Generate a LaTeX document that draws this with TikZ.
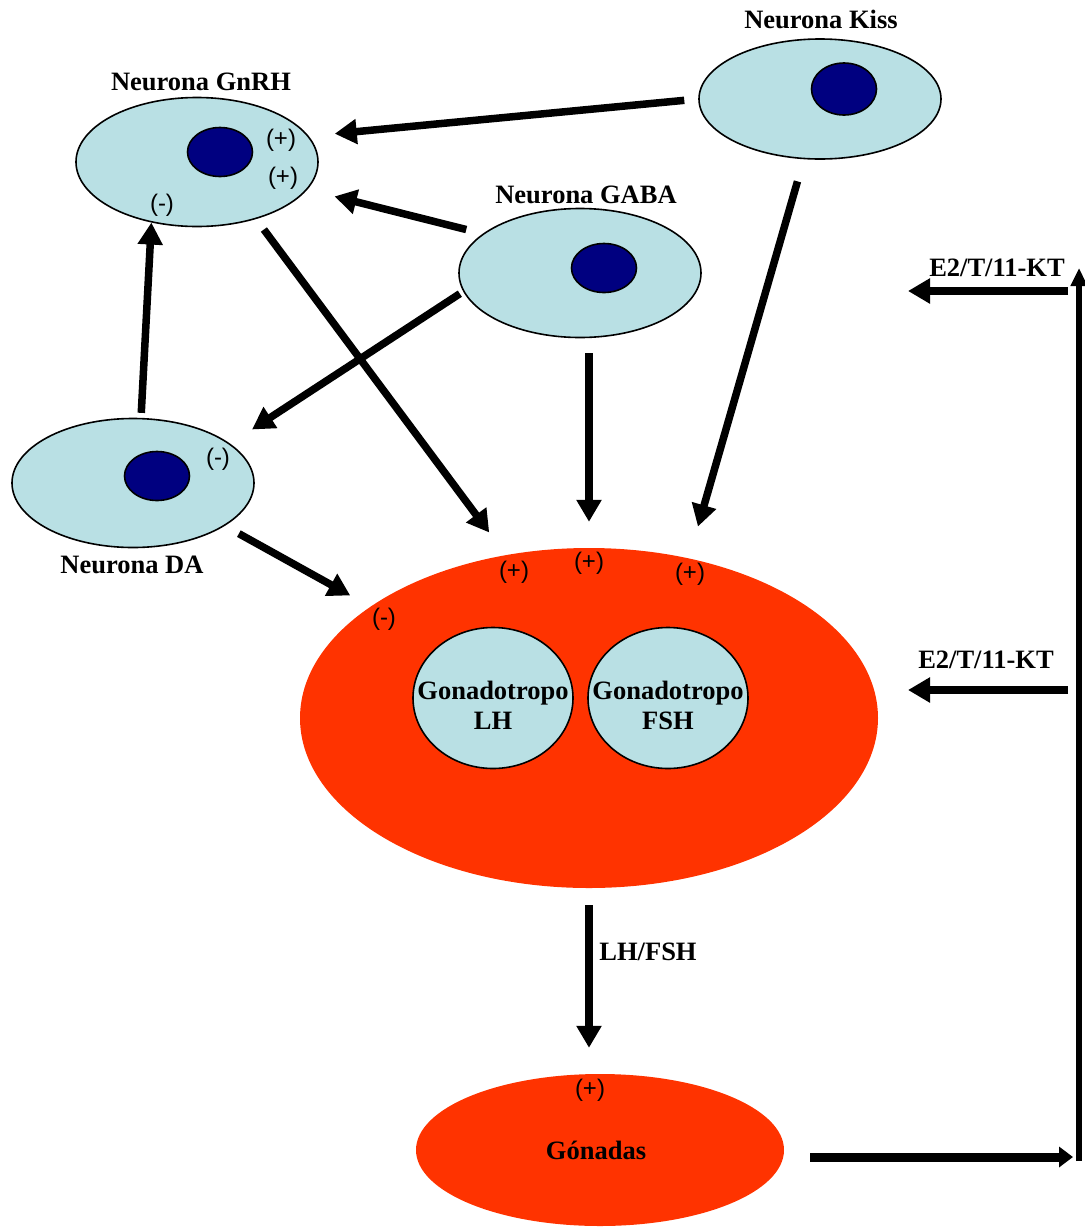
\documentclass[tikz,border=0pt]{standalone}
\usepackage{fontspec}
\setmainfont{Liberation Serif}
\newfontfamily\signfont{Liberation Sans}
\usetikzlibrary{shapes.geometric,arrows.meta}
\definecolor{cellblue}{HTML}{B9E0E4}
\definecolor{nucblue}{HTML}{000080}
\definecolor{glandred}{HTML}{FF3300}
\begin{document}
\begin{tikzpicture}[x=1pt,y=-1pt,
  cell/.style={ellipse, draw, line width=1.6pt, fill=cellblue, minimum width=242pt, minimum height=129pt, inner sep=0pt},
  nucleus/.style={ellipse, draw, line width=1.6pt, fill=nucblue, minimum width=65pt, minimum height=49pt, inner sep=0pt},
  gland/.style={ellipse, fill=glandred, inner sep=0pt},
  gcell/.style={cell, minimum width=160pt, minimum height=141pt},
  title/.style={font=\fontsize{26.5}{30}\selectfont\bfseries, inner sep=0pt},
  sign/.style={font=\signfont\fontsize{24}{28}\selectfont, inner sep=0pt},
  arr/.style={line width=7.5pt, -{Triangle[width=24pt,length=22pt]}}
]
\useasboundingbox (0,0) rectangle (1085,1227);

% neuronas
\node[cell] (gnrh) at (197,162) {};
\node[nucleus] (gnrhnuc) at (220,152) {};
\node[cell, minimum height=120pt] (kiss) at (820,99) {};
\node[nucleus, minimum height=52pt] (kissnuc) at (844,89) {};
\node[cell] (gaba) at (580,273) {};
\node[nucleus] (gabanuc) at (604,268) {};
\node[cell] (da) at (133,483) {};
\node[nucleus] (danuc) at (157,476) {};

\node[title] (lblgnrh) at (201,82) {Neurona GnRH};
\node[title] (lblkiss) at (821,19) {Neurona Kiss};
\node[title] (lblgaba) at (586,195) {Neurona GABA};
\node[title] (lblda) at (132,565) {Neurona DA};

% hipofisis y gonadas
\node[gland, minimum width=578pt, minimum height=340pt] (pit) at (589,718) {};
\node[gcell] (lh) at (493,698) {};
\node[gcell] (fsh) at (668,698) {};
\node[title, align=center] (lhtxt) at ([yshift=-7pt]lh.center) {Gonadotropo\\LH};
\node[title, align=center] (fshtxt) at ([yshift=-7pt]fsh.center) {Gonadotropo\\FSH};
\node[gland, minimum width=368pt, minimum height=152pt] (gon) at (600,1150) {};
\node[title] (lblgon) at (596,1150) {G\'onadas};

% signos
\node[sign] (sgnrha) at (281,140) {(+)};
\node[sign] (sgnrhb) at (283,178) {(+)};
\node[sign] (sgnrhc) at (162,205) {(-)};
\node[sign] (sda) at (218,459) {(-)};
\node[sign] (spita) at (514,572) {(+)};
\node[sign] (spitb) at (589,563) {(+)};
\node[sign] (spitc) at (690,574) {(+)};
\node[sign] (spitd) at (384,619) {(-)};
\node[sign] (sgon) at (590,1090) {(+)};

% conexiones
\draw[arr, shorten <=14pt, shorten >=26pt] (kiss.180) -- (gnrh.13);
\draw[arr, shorten <=17pt, shorten >=28pt] (gaba.158) -- (gnrh.-14);
\draw[arr, shorten <=5pt] (da.83) -- (gnrh.233);
\draw[arr, shorten <=13pt, shorten >=28pt] (gnrh.-44) -- (pit.117);
\draw[arr, shorten <=4pt, shorten >=26pt] (gaba.189) -- (da.22);
\draw[arr, shorten <=15pt, shorten >=26pt] (gaba.south -| pit.north) -- (pit.north);
\draw[arr, shorten <=23pt, shorten >=33pt] (kiss.255) -- (pit.58);
\draw[arr, shorten <=16pt, shorten >=23pt] (da.-25) -- (pit.153);
\draw[arr, shorten <=17pt, shorten >=26pt] (pit.south) -- (pit.south |- gon.north);
\node[title] (lbllhfsh) at (648,952) {LH/FSH};

% retroalimentacion
\coordinate (rb) at (1079,1157);
\coordinate (rt) at (1079,268);
\draw[line width=9pt, -{Triangle[width=20pt,length=14pt]}, shorten <=26pt, shorten >=6pt] ([yshift=-7pt]gon.east) -- (rb);
\draw[line width=6pt, -{Triangle[width=16pt,length=18pt]}] ([yshift=-4pt]rb) -- (rt);
\coordinate (e2a) at (1068,291);
\coordinate (e2b) at (908,291);
\draw[arr] (e2a) -- (e2b);
\node[title] (lble2a) at (997,268) {E2/T/11-KT};
\coordinate (e2c) at (1068,690);
\coordinate (e2d) at (908,690);
\draw[arr] (e2c) -- (e2d);
\node[title] (lble2b) at (986,660) {E2/T/11-KT};
\end{tikzpicture}
\end{document}
